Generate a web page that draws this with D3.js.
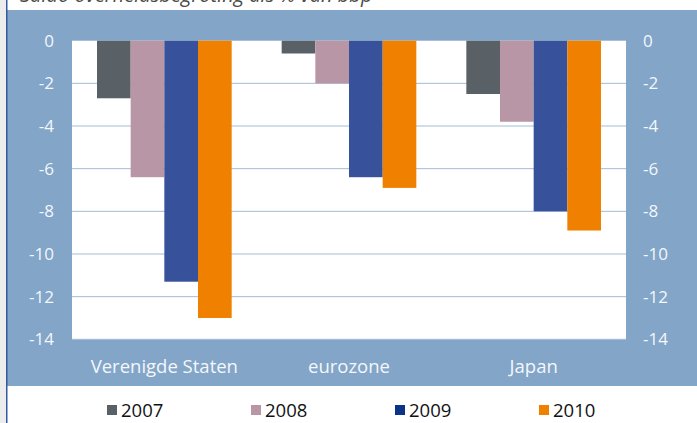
<!DOCTYPE html>
<html>
<head>
<meta charset="utf-8">
<script src="https://cdn.jsdelivr.net/npm/d3@7"></script>
<style>
  body { margin: 0; background: #fff; }
  svg text { font-family: "Open Sans", "Noto Sans", sans-serif; }
</style>
</head>
<body>
<div id="chart"></div>
<script>
// data
let categories = ["Verenigde Staten", "eurozone", "Japan"];
let years = ["2007", "2008", "2009", "2010"];
let v2007 = [-2.7, -0.6, -2.5];
let v2008 = [-6.4, -2.0, -3.8];
let v2009 = [-11.3, -6.4, -8.0];
let v2010 = [-13.0, -6.9, -8.9];
let yTicks = [0, -2, -4, -6, -8, -10, -12, -14];
let title = "Saldo overheidsbegroting als % van bbp";

let barColors = ["#5a6166", "#b996a6", "#37529a", "#ef8000"];
let legendColors = ["#5a6166", "#b996a6", "#0d3389", "#ef8000"];

let width = 697, height = 423;
let plot = {left: 72, right: 626, top: 40.7, bottom: 339.3};

let series = [v2007, v2008, v2009, v2010];
let data = categories.map(function(c, i) {
    return {cat: c, values: years.map(function(y, j) {
        return {year: y, value: series[j][i]};
    })};
});

let svg = d3.select("#chart")
    .append("svg")
    .attr("width", width)
    .attr("height", height);

// frame: grey strip, blue border line, blue panel, white legend zone
svg.append("rect").attr("x", 0).attr("y", 0).attr("width", 6).attr("height", height).attr("fill", "#ececec");
svg.append("rect").attr("x", 7).attr("y", 10).attr("width", width - 7).attr("height", 376).attr("fill", "#82a5c8");
svg.append("rect").attr("x", 6).attr("y", 0).attr("width", 1.5).attr("height", height).attr("fill", "#3458a4");

// title, mostly cut off by the top edge
svg.append("text")
    .attr("x", 20)
    .attr("y", 2)
    .attr("fill", "#4a4a4a")
    .style("font-size", "20px")
    .style("font-style", "italic")
    .text(title);

let x0 = d3.scaleBand()
    .domain(categories)
    .range([plot.left, plot.right])
    .paddingInner(0)
    .paddingOuter(0);

let x1 = d3.scaleBand()
    .domain(years)
    .range([25, x0.bandwidth() - 25]);

let y = d3.scaleLinear()
    .domain([0, -14])
    .range([plot.top, plot.bottom]);

let color = d3.scaleOrdinal(years, barColors);

svg.append("rect")
    .attr("x", plot.left)
    .attr("y", plot.top)
    .attr("width", plot.right - plot.left)
    .attr("height", plot.bottom - plot.top)
    .attr("fill", "#fff");

// gridlines
svg.append("g")
    .selectAll("line")
    .data(yTicks.slice(1))
    .enter().append("line")
    .attr("x1", plot.left)
    .attr("x2", plot.right)
    .attr("y1", function(d) { return y(d); })
    .attr("y2", function(d) { return y(d); })
    .attr("stroke", "#a3bcd6")
    .attr("stroke-width", 1);

// bars
let group = svg.append("g")
    .selectAll(".group")
    .data(data)
    .enter().append("g")
    .attr("class", "group")
    .attr("transform", function(d) { return "translate(" + x0(d.cat) + ",0)"; });

group.selectAll("rect")
    .data(function(d) { return d.values; })
    .enter().append("rect")
    .attr("x", function(d) { return x1(d.year); })
    .attr("y", y(0))
    .attr("width", x1.bandwidth())
    .attr("height", function(d) { return y(d.value) - y(0); })
    .attr("fill", function(d) { return color(d.year); });

// axes (plain hyphen for the minus, as in the original)
let fmt = function(d) { return String(d); };
let leftAxis = d3.axisLeft(y).tickValues(yTicks).tickSize(0).tickPadding(18).tickFormat(fmt);
let rightAxis = d3.axisRight(y).tickValues(yTicks).tickSize(0).tickPadding(17).tickFormat(fmt);

function styleAxis(g) {
    g.select(".domain").remove();
    g.selectAll("text")
        .attr("fill", "#f4f7fb")
        .style("font-size", "17px");
}

svg.append("g")
    .attr("transform", "translate(" + plot.left + ",0)")
    .call(leftAxis)
    .call(styleAxis);

svg.append("g")
    .attr("transform", "translate(" + plot.right + ",0)")
    .call(rightAxis)
    .call(styleAxis);

// category labels
svg.append("g")
    .selectAll("text")
    .data(categories)
    .enter().append("text")
    .attr("x", function(d) { return x0(d) + x0.bandwidth() / 2; })
    .attr("y", 373)
    .attr("text-anchor", "middle")
    .attr("fill", "#f4f7fb")
    .style("font-size", "18.5px")
    .text(function(d) { return d; });

// legend
let legendX = d3.scalePoint()
    .domain(years)
    .range([107, 539]);

let legend = svg.append("g")
    .selectAll(".legend")
    .data(years)
    .enter().append("g")
    .attr("class", "legend")
    .attr("transform", function(d) { return "translate(" + legendX(d) + ",405)"; });

legend.append("rect")
    .attr("width", 10)
    .attr("height", 10)
    .attr("fill", function(d, i) { return legendColors[i]; });

legend.append("text")
    .attr("x", 14)
    .attr("y", 11.5)
    .attr("fill", "#111")
    .style("font-size", "18.5px")
    .text(function(d) { return d; });
</script>
</body>
</html>
